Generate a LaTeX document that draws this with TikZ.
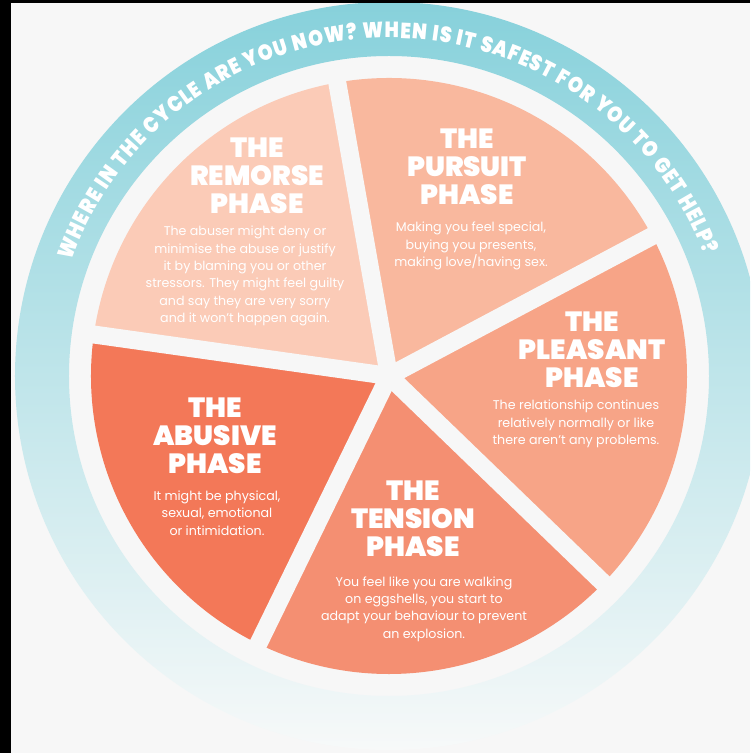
\documentclass[tikz,border=0pt]{standalone}
\usepackage{fontspec}
\setmainfont{Poppins}
\IfFontExistsTF{Poppins Black}
  {\newfontfamily\headfont{Poppins Black}
   \newfontfamily\ringfont{Poppins Black}[FakeStretch=0.86]}
  {\newcommand\headfont{\bfseries}
   \newcommand\ringfont{\bfseries}}
\usetikzlibrary{decorations.text}

\definecolor{bggrey}{HTML}{F7F7F7}
\definecolor{ringtop}{HTML}{87D1DB}
\definecolor{ringmid}{HTML}{C0E5E9}
\definecolor{ringbot}{HTML}{F7F9F9}
\definecolor{remorsecol}{HTML}{FBCBB7}
\definecolor{pursuitcol}{HTML}{F9B89E}
\definecolor{pleasantcol}{HTML}{F7A487}
\definecolor{tensioncol}{HTML}{F48F72}
\definecolor{abusivecol}{HTML}{F37858}

\tikzset{
  phasetitle/.style={text=white, align=center, inner sep=0pt, font=\headfont\fontsize{15.8}{15.9}\selectfont},
  phasetext/.style={text=white, align=center, inner sep=0pt, font=\fontsize{7.2}{9.9}\selectfont},
  gapline/.style={bggrey, line width=0.36cm}
}

\begin{document}
\begin{tikzpicture}[x=0.02cm, y=0.02cm]
      \useasboundingbox (-389,-377) rectangle (361,376);
      \clip (-389,-377) rectangle (361,376);
      \fill[bggrey] (-389,-377) rectangle (361,376);

      % outer ring
      \shade[top color=ringtop, middle color=ringmid, bottom color=ringbot, even odd rule]
        (0,0) circle (374) (0,0) circle (320);
      \path[decorate, decoration={text along path, text color=white, text align=fit to path,
        text format delimiters={|}{|},
        text={|\ringfont\fontsize{12.5}{12.5}\selectfont|WHERE IN THE CYCLE ARE YOU NOW? WHEN IS IT SAFEST FOR YOU TO GET HELP?}}]
        (160:338) arc[start angle=160, end angle=21, radius=338];

      % the five phases
      \foreach \a/\col in {100/remorsecol, 28/pursuitcol, -44/pleasantcol, -116/tensioncol, 172/abusivecol}
        \fill[\col] (0,0) -- (\a:298) arc[start angle=\a, end angle=\a+72, radius=298] -- cycle;
      \foreach \a in {28,100,172,244,316}
        \draw[gapline] (0,0) -- (\a:306);

      \node[phasetitle] (remorse-title) at (-132,200) {THE\\REMORSE\\PHASE};
      \node[phasetext] (remorse-text) at (-144,100) {The abuser might deny or\\minimise the abuse or justify\\it by blaming you or other\\stressors. They might feel guilty\\and say they are very sorry\\and it won't happen again.};

      \node[phasetitle] (pursuit-title) at (78,209) {THE\\PURSUIT\\PHASE};
      \node[phasetext] (pursuit-text) at (82,130) {Making you feel special,\\buying you presents,\\making love/having sex.};

      \node[phasetitle] (pleasant-title) at (203,26) {THE\\PLEASANT\\PHASE};
      \node[phasetext] (pleasant-text) at (187,-48) {The relationship continues\\relatively normally or like\\there aren't any problems.};

      \node[phasetitle] (tension-title) at (24,-143) {THE\\TENSION\\PHASE};
      \node[phasetext] (tension-text) at (35,-233) {You feel like you are walking\\on eggshells, you start to\\adapt your behaviour to prevent\\an explosion.};

      \node[phasetitle] (abusive-title) at (-174,-60) {THE\\ABUSIVE\\PHASE};
      \node[phasetext] (abusive-text) at (-172,-137) {It might be physical,\\sexual, emotional\\or intimidation.};

      % \draw[red] (0,0) circle (298);
      \fill[black] (-389,-377) rectangle (-378,376);
      \fill[black] (-389,373) rectangle (361,376);
\end{tikzpicture}
\end{document}
